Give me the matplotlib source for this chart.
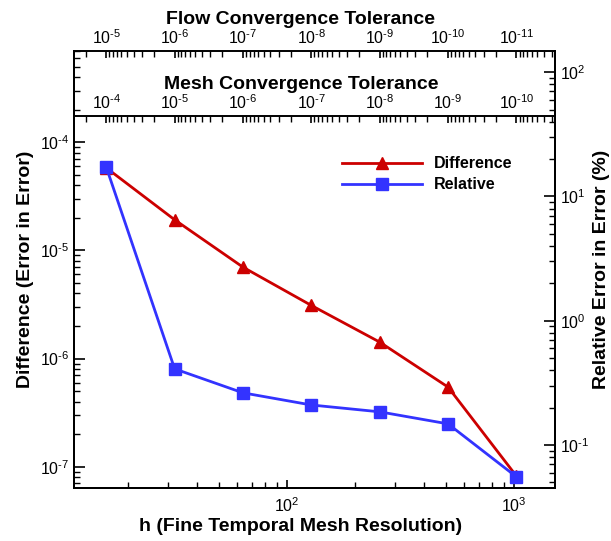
import numpy as np
import matplotlib
matplotlib.use('Agg')
import matplotlib.pyplot as plt
import matplotlib.ticker as plticker

# data
h = [16, 32, 64, 128, 256, 512, 1024]
difference = [5.8e-5, 1.92e-5, 7.0e-6, 3.1e-6, 1.42e-6, 5.45e-7, 8.2e-8]
relative = [17.2, 0.41, 0.263, 0.21, 0.185, 0.148, 0.0555]
mesh_tol0 = 1e-4  # mesh tolerance at h = 16, one decade per doubling
flow_tol0 = 1e-5  # flow tolerance at h = 16

plt.rcParams['font.family'] = ['Liberation Sans', 'DejaVu Sans']
plt.rcParams['mathtext.fontset'] = 'custom'
plt.rcParams['mathtext.rm'] = 'Liberation Sans'
plt.rcParams['mathtext.it'] = 'Liberation Sans:italic'
plt.rcParams['mathtext.bf'] = 'Liberation Sans:bold'
plt.rcParams['axes.linewidth'] = 1.4

RED = '#cc0000'
BLUE = '#3333ff'
xlim = (11.53, 1515)
TITLE = 14
TICK = 11.5
XLAB_POS = (301-74)/481  # titles sit a bit left of the axes centre

def tol(hh, t0):
  return t0 * 10.0 ** (-np.log2(np.asarray(hh, dtype=float) / h[0]))

def pow10(v, pos):
  e = int(round(np.log10(v)))
  if e < 0:
    return r'$10^{\text{-}%d}$' % (-e)
  return r'$10^{%d}$' % e

fig = plt.figure(figsize=(6.11, 5.41), dpi=100)
ax = fig.add_axes([74/611, 1-488/541, (555-74)/611, (488-50.7)/541])
ax.set_xscale('log')
ax.set_yscale('log')
ax.set_xlim(*xlim)
ax.set_ylim(10**-7.197, 10**-3.153)
ln1 = ax.plot(h, difference, color=RED, lw=2, marker='^', ms=8, label='Difference')
ax.set_xlabel('h (Fine Temporal Mesh Resolution)', fontsize=TITLE, fontweight='bold', labelpad=2)
ax.xaxis.label.set_x(XLAB_POS)
ax.set_ylabel('Difference (Error in Error)', fontsize=TITLE, fontweight='bold', labelpad=4)
ax.xaxis.set_major_formatter(plticker.FuncFormatter(pow10))
ax.yaxis.set_major_formatter(plticker.FuncFormatter(pow10))
ax.tick_params(which='both', direction='in', labelsize=TICK, top=False, right=False)
ax.tick_params(axis='y', which='major', length=8, width=1.2)
ax.tick_params(axis='x', which='major', length=6, width=1.2, pad=6)
ax.tick_params(which='minor', length=4, width=1.0)
ax.spines['top'].set_visible(False)

axr = ax.twinx()
axr.set_yscale('log')
axr.set_ylim(0.0451, 149)
ln2 = axr.plot(h, relative, color=BLUE, lw=2, marker='s', ms=8.5, label='Relative')
axr.set_ylabel('Relative Error in Error (%)', fontsize=TITLE, fontweight='bold', labelpad=3)
axr.yaxis.set_major_formatter(plticker.FuncFormatter(pow10))
axr.tick_params(which='both', direction='in', labelsize=TICK)
axr.tick_params(which='major', length=8, width=1.2)
axr.tick_params(which='minor', length=4, width=1.0)
axr.spines['top'].set_visible(False)

# tolerance axes on top: log axes with limits mapped from h
for t0, pos, title in [(flow_tol0, 1.0, 'Flow Convergence Tolerance'),
                       (mesh_tol0, (488-116)/(488-50.7), 'Mesh Convergence Tolerance')]:
  at = ax.twiny()
  at.set_xscale('log')
  lo, hi = tol(xlim[1], t0), tol(xlim[0], t0)
  at.set_xlim(hi, lo)
  for s in ['left', 'right', 'bottom']:
    at.spines[s].set_visible(False)
  at.spines['top'].set_position(('axes', pos))
  decades = np.arange(np.ceil(np.log10(lo)), np.floor(np.log10(hi)) + 1)
  at.xaxis.set_major_locator(plticker.FixedLocator(10.0 ** decades))
  at.xaxis.set_minor_locator(plticker.LogLocator(base=10, subs=np.arange(2, 10), numticks=200))
  at.xaxis.set_major_formatter(plticker.FuncFormatter(pow10))
  at.xaxis.set_minor_formatter(plticker.NullFormatter())
  at.tick_params(which='both', direction='in', labelsize=TICK, pad=3)
  at.tick_params(which='major', length=5, width=1.2)
  at.tick_params(which='minor', length=4, width=1.0)
  at.set_xlabel(title, fontsize=TITLE, fontweight='bold', labelpad=3)
  at.xaxis.label.set_x(XLAB_POS)

lns = ln1 + ln2
leg = ax.legend(lns, [l.get_label() for l in lns], loc='upper left',
                bbox_to_anchor=((336-74)/481, (488-150)/437.3), frameon=False,
                handlelength=5.0, handletextpad=0.7, prop={'weight': 'bold', 'size': 11.5},
                labelspacing=0.38, borderaxespad=0)

fig.savefig('out.png', dpi=100)
